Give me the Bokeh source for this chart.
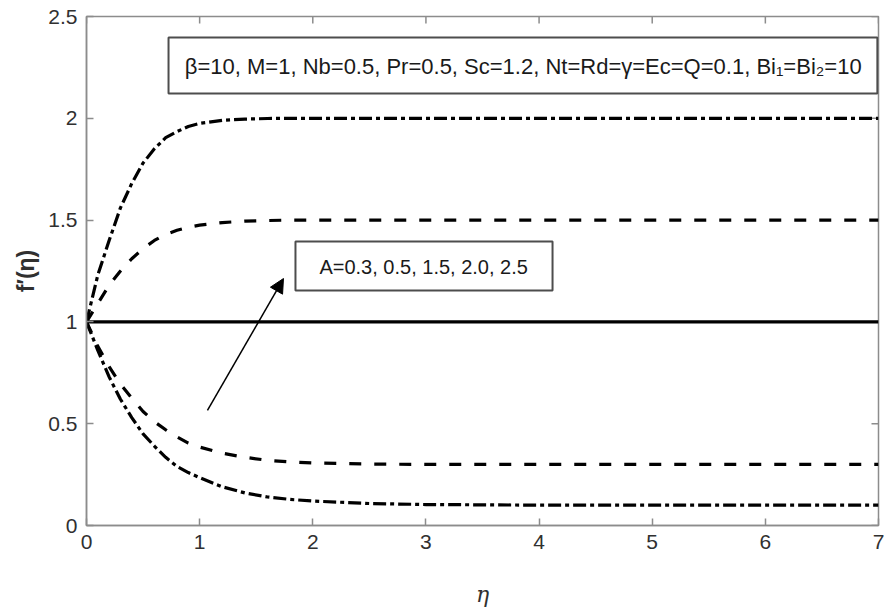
import math
from bokeh.plotting import figure
from bokeh.models import Label, BoxAnnotation, Arrow, NormalHead, Range1d, FixedTicker
from bokeh.embed import file_html
from bokeh.resources import INLINE

# ---- data ----
eta = [0, 0.1, 0.2, 0.3, 0.4, 0.5, 0.6, 0.7, 0.8, 0.9, 1.0, 1.2, 1.4, 1.6, 1.8, 2.0, 2.5, 3.0, 4.0, 5.0, 6.0, 7.0]
f_top = [1.0, 1.23, 1.40, 1.56, 1.68, 1.78, 1.85, 1.905, 1.935, 1.96, 1.975, 1.99, 1.996, 1.999, 2.0, 2.0, 2.0, 2.0, 2.0, 2.0, 2.0, 2.0]
f_upper = [1.0, 1.09, 1.18, 1.25, 1.31, 1.36, 1.40, 1.43, 1.45, 1.465, 1.475, 1.488, 1.495, 1.498, 1.5, 1.5, 1.5, 1.5, 1.5, 1.5, 1.5, 1.5]
f_mid = [1.0, 1.0, 1.0, 1.0, 1.0, 1.0, 1.0, 1.0, 1.0, 1.0, 1.0, 1.0, 1.0, 1.0, 1.0, 1.0, 1.0, 1.0, 1.0, 1.0, 1.0, 1.0]
f_lower = [1.0, 0.88, 0.78, 0.695, 0.625, 0.56, 0.51, 0.47, 0.435, 0.405, 0.385, 0.355, 0.335, 0.32, 0.312, 0.307, 0.302, 0.3, 0.3, 0.3, 0.3, 0.3]
f_bottom = [1.0, 0.86, 0.73, 0.62, 0.53, 0.45, 0.39, 0.335, 0.29, 0.26, 0.235, 0.19, 0.16, 0.14, 0.128, 0.12, 0.108, 0.103, 0.1, 0.1, 0.1, 0.1]

x_ticks = [0, 1, 2, 3, 4, 5, 6, 7]
y_ticks = [0, 0.5, 1, 1.5, 2, 2.5]

params_text = "\u03b2=10, M=1, Nb=0.5, Pr=0.5, Sc=1.2, Nt=Rd=\u03b3=Ec=Q=0.1, Bi\u2081=Bi\u2082=10"
a_text = "A=0.3, 0.5, 1.5, 2.0, 2.5"

FONT = "Liberation Sans"
AX = "#8c8c8c"
TXT = "#303030"
X0, X1, Y0, Y1 = 0, 7, 0, 2.5

p = figure(width=884, height=613, output_backend="svg", toolbar_location=None,
           x_range=Range1d(X0, X1), y_range=Range1d(Y0, Y1),
           min_border_left=86, min_border_right=6, min_border_top=16, min_border_bottom=88,
           background_fill_color="white", border_fill_color="white")
p.grid.visible = False
p.outline_line_color = AX
p.outline_line_width = 1.5

for ax, ticks in ((p.xaxis[0], x_ticks), (p.yaxis[0], y_ticks)):
    ax.ticker = FixedTicker(ticks=ticks)
    ax.axis_line_color = AX
    ax.axis_line_width = 1.5
    ax.major_tick_line_color = AX
    ax.major_tick_line_width = 1.5
    ax.major_tick_in = 7
    ax.major_tick_out = 0
    ax.minor_tick_line_color = None
    ax.major_label_text_font = FONT
    ax.major_label_text_font_size = "21px"
    ax.major_label_text_color = TXT
    ax.major_label_standoff = 9

p.xaxis[0].axis_label = "\u03b7"
p.xaxis[0].axis_label_text_font = "DejaVu Serif"
p.xaxis[0].axis_label_text_font_style = "italic"
p.xaxis[0].axis_label_text_font_size = "22px"
p.xaxis[0].axis_label_text_color = TXT
p.xaxis[0].axis_label_standoff = 30

p.yaxis[0].axis_label = "f\u2032(\u03b7)"
p.yaxis[0].axis_label_text_font = FONT
p.yaxis[0].axis_label_text_font_style = "bold"
p.yaxis[0].axis_label_text_font_size = "23px"
p.yaxis[0].axis_label_text_color = TXT
p.yaxis[0].axis_label_standoff = 6

# inward ticks on the top and right edges of the box
p.ray(x=x_ticks, y=[Y1] * len(x_ticks), length=7, length_units="screen",
      angle=-math.pi / 2, line_color=AX, line_width=1.5)
p.ray(x=[X1] * len(y_ticks), y=y_ticks, length=7, length_units="screen",
      angle=math.pi, line_color=AX, line_width=1.5)

DD = "13 4 4 4"
DS = "12 13"
p.line(eta, f_top, line_color="black", line_width=3.2, line_dash=DD)
p.line(eta, f_upper, line_color="black", line_width=3.2, line_dash=DS)
p.line(eta, f_mid, line_color="black", line_width=3.2)
p.line(eta, f_lower, line_color="black", line_width=3.2, line_dash=DS)
p.line(eta, f_bottom, line_color="black", line_width=3.2, line_dash=DD)

# parameter box
p.add_layout(BoxAnnotation(left=0.725, right=6.99, top=2.397, bottom=2.122,
                           fill_color="white", fill_alpha=1.0,
                           line_color="#4d4d4d", line_alpha=1.0, line_width=2))
p.add_layout(Label(x=3.86, y=2.255, text=params_text, text_align="center", text_baseline="middle",
                   text_font=FONT, text_font_size="22px", text_color="#1a1a1a"))

# A box
p.add_layout(BoxAnnotation(left=1.847, right=4.119, top=1.395, bottom=1.154,
                           fill_color="white", fill_alpha=1.0,
                           line_color="#4d4d4d", line_alpha=1.0, line_width=2))
p.add_layout(Label(x=2.98, y=1.272, text=a_text, text_align="center", text_baseline="middle",
                   text_font=FONT, text_font_size="20px", text_color="#1a1a1a"))

p.add_layout(Arrow(end=NormalHead(size=14, fill_color="black", line_color="black"),
                   x_start=1.069, y_start=0.565, x_end=1.741, y_end=1.213,
                   line_color="black", line_width=1.5))

open("out.html", "w").write(file_html(p, INLINE))
